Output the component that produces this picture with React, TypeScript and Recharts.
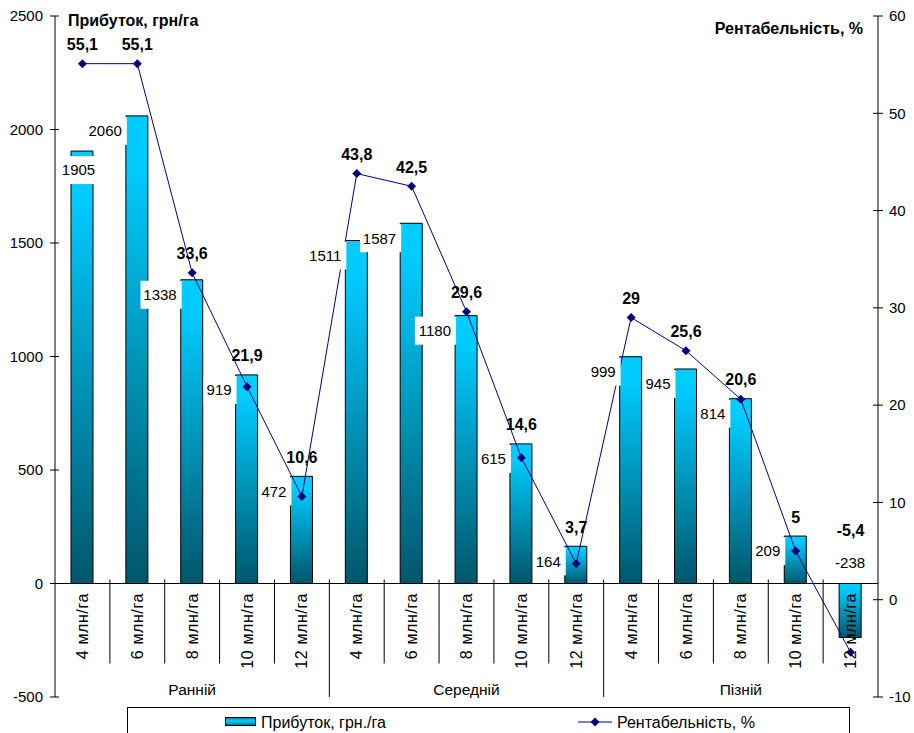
import React from "react";
import { ComposedChart, Bar, Line, XAxis, YAxis, ReferenceLine, LabelList } from "recharts";

const categories = [
  "4 млн/га", "6 млн/га", "8 млн/га", "10 млн/га", "12 млн/га",
  "4 млн/га", "6 млн/га", "8 млн/га", "10 млн/га", "12 млн/га",
  "4 млн/га", "6 млн/га", "8 млн/га", "10 млн/га", "12 млн/га",
];
const groups = ["Ранній", "Середній", "Пізній"];
const profit = [1905, 2060, 1338, 919, 472, 1511, 1587, 1180, 615, 164, 999, 945, 814, 209, -238];
const rent = [55.1, 55.1, 33.6, 21.9, 10.6, 43.8, 42.5, 29.6, 14.6, 3.7, 29, 25.6, 20.6, 5, -5.4];
const leftTicks = [-500, 0, 500, 1000, 1500, 2000, 2500];
const rightTicks = [-10, 0, 10, 20, 30, 40, 50, 60];

const data = categories.map((c, i) => ({ cat: c, profit: profit[i], rent: rent[i] }));

const W = 914;
const H = 733;
const PLOT_LEFT = 55;
const PLOT_RIGHT = 878;
const PLOT_TOP = 16;
const PLOT_BOTTOM = 697;
const PLOT_H = PLOT_BOTTOM - PLOT_TOP;
const L_MIN = -500;
const L_MAX = 2500;
const ZERO_Y = PLOT_TOP + (PLOT_H * L_MAX) / (L_MAX - L_MIN);
const BAND = (PLOT_RIGHT - PLOT_LEFT) / categories.length;
const FONT = "'Liberation Sans', Arial, sans-serif";
const NAVY = "#000080";

const barTopY = (v: number) => ZERO_Y - (v * PLOT_H) / (L_MAX - L_MIN);
const fmt = (v: number) => String(v).replace(".", ",");

function LeftTick(props: any) {
  const { x, y, payload } = props;
  return (
    <g>
      <line x1={x + 7} x2={x + 16} y1={y} y2={y} stroke="#000" />
      <text x={x} y={y} dy="0.35em" textAnchor="end" fontSize={15} fontFamily={FONT} fill="#000">
        {payload.value}
      </text>
    </g>
  );
}

function RightTick(props: any) {
  const { x, y, payload } = props;
  return (
    <g>
      <line x1={x - 16} x2={x - 6} y1={y} y2={y} stroke="#000" />
      <text x={x} y={y} dy="0.35em" textAnchor="start" fontSize={15} fontFamily={FONT} fill="#000">
        {payload.value}
      </text>
    </g>
  );
}

function CategoryTick(props: any) {
  const { x, index, payload } = props;
  const groupEnd = index % 5 === 4;
  const ty = ZERO_Y + 9.5;
  return (
    <g>
      {index < categories.length - 1 && (
        <line
          x1={x + BAND / 2}
          x2={x + BAND / 2}
          y1={ZERO_Y - 4}
          y2={groupEnd ? PLOT_BOTTOM : ZERO_Y + 80}
          stroke="#000"
        />
      )}
      <text
        x={x}
        y={ty}
        dy="0.35em"
        transform={`rotate(-90 ${x} ${ty})`}
        textAnchor="end"
        fontSize={16}
        letterSpacing={0.6}
        fontFamily={FONT}
        fill="#000"
      >
        {payload.value}
      </text>
      {index % 5 === 2 && (
        <text x={x} y={690} dy="0.35em" textAnchor="middle" fontSize={15.5} fontFamily={FONT} fill="#000">
          {groups[Math.floor(index / 5)]}
        </text>
      )}
    </g>
  );
}

function BarLabel(props: any) {
  const vb = props.viewBox || {};
  const x = props.x ?? vb.x;
  const y = props.y ?? vb.y;
  const width = props.width ?? vb.width;
  const height = props.height ?? vb.height;
  const value = Number(props.value);
  const text = String(value);
  const tw = text.replace("-", "").length * 8.3 + (value < 0 ? 5 : 0);
  if (value < 0) {
    const cx = x + width / 2;
    const cy = ZERO_Y - 21;
    return (
      <g>
        <rect x={cx - tw / 2 - 3} y={cy - 13} width={tw + 6} height={26} fill="#fff" />
        <text x={cx} y={cy} dy="0.35em" textAnchor="middle" fontSize={15} fontFamily={FONT} fill="#000">
          {text}
        </text>
      </g>
    );
  }
  const top = Math.min(y, y + height);
  let right = x - 4;
  let left = right - tw;
  let boxRight = x + 1;
  let boxTop = top + 1;
  let textY = top + 15;
  if (left < PLOT_LEFT + 7) {
    left = PLOT_LEFT + 7;
    right = left + tw;
    boxRight = right + 3;
    boxTop = top + 5;
    textY = top + 19;
  }
  return (
    <g>
      <rect x={left - 3} y={boxTop} width={boxRight - (left - 3)} height={28} fill="#fff" />
      <text x={right} y={textY} dy="0.35em" textAnchor="end" fontSize={15} fontFamily={FONT} fill="#000">
        {text}
      </text>
    </g>
  );
}

function LineLabel(props: any) {
  const vb = props.viewBox || {};
  const x = props.x ?? vb.x;
  const y = props.y ?? vb.y;
  const value = Number(props.value);
  let index = props.index;
  if (index === undefined || index === null) index = rent.indexOf(value);
  const p = profit[index];
  const obstacle = p >= 0 ? barTopY(p) : ZERO_Y - 34;
  const cy = Math.min(y, obstacle) - 19;
  return (
    <text x={x} y={cy} dy="0.35em" textAnchor="middle" fontSize={16} fontWeight="bold" fontFamily={FONT} fill="#000">
      {fmt(value)}
    </text>
  );
}

function Diamond(props: any) {
  const { cx, cy } = props;
  if (cx == null || cy == null) return null;
  return <path d={`M${cx},${cy - 4.5}L${cx + 4.5},${cy}L${cx},${cy + 4.5}L${cx - 4.5},${cy}Z`} fill={NAVY} />;
}

export default function App() {
  return (
    <div style={{ position: "absolute", left: 0, top: 0, width: W, height: H, background: "#fff" }}>
      <svg width={0} height={0} style={{ position: "absolute" }}>
        <defs>
          <linearGradient id="barGrad" x1="0" y1="0" x2="0" y2="1">
            <stop offset="0" stopColor="#00CCFF" />
            <stop offset="0.1" stopColor="#00CCFF" />
            <stop offset="1" stopColor="#00566B" />
          </linearGradient>
          <linearGradient id="legGrad" x1="0" y1="0" x2="0" y2="1">
            <stop offset="0" stopColor="#006E88" />
            <stop offset="0.35" stopColor="#00CCFF" />
            <stop offset="0.7" stopColor="#00B0E0" />
            <stop offset="1" stopColor="#00566B" />
          </linearGradient>
        </defs>
      </svg>
      <ComposedChart
        width={W}
        height={H}
        data={data}
        margin={{ top: PLOT_TOP, right: 0, bottom: 0, left: 0 }}
      >
        <XAxis
          dataKey="cat"
          xAxisId={0}
          height={H - PLOT_BOTTOM}
          interval={0}
          axisLine={false}
          tickLine={false}
          tick={<CategoryTick />}
        />
        <YAxis
          yAxisId="left"
          width={PLOT_LEFT}
          domain={[L_MIN, L_MAX]}
          ticks={leftTicks}
          interval={0}
          axisLine={{ stroke: "#000" }}
          tickLine={false}
          tickSize={4}
          tickMargin={8}
          tick={<LeftTick />}
        />
        <YAxis
          yAxisId="right"
          orientation="right"
          width={W - PLOT_RIGHT}
          domain={[-10, 60]}
          ticks={rightTicks}
          interval={0}
          axisLine={{ stroke: "#000" }}
          tickLine={false}
          tickSize={4}
          tickMargin={7}
          tick={<RightTick />}
        />
        <ReferenceLine y={0} yAxisId="left" stroke="#000" />
        <Bar
          dataKey="profit"
          yAxisId="left"
          barSize={22}
          fill="url(#barGrad)"
          stroke="#000"
          strokeWidth={1}
          isAnimationActive={false}
        >
          <LabelList dataKey="profit" content={<BarLabel />} />
        </Bar>
        <Line
          dataKey="rent"
          yAxisId="right"
          type="linear"
          stroke={NAVY}
          strokeWidth={1}
          dot={<Diamond />}
          activeDot={false}
          isAnimationActive={false}
        >
          <LabelList dataKey="rent" content={<LineLabel />} />
        </Line>
      </ComposedChart>
      <svg
        width={W}
        height={H}
        style={{ position: "absolute", left: 0, top: 0, pointerEvents: "none" }}
      >
        <text x={68} y={20} dy="0.35em" fontSize={16} fontWeight="bold" fontFamily={FONT} fill="#000">
          Прибуток, грн/га
        </text>
        <text x={863} y={28} dy="0.35em" textAnchor="end" fontSize={16} fontWeight="bold" fontFamily={FONT} fill="#000">
          Рентабельність, %
        </text>
        <rect x={127.5} y={707.5} width={722} height={40} fill="#fff" stroke="#000" />
        <rect x={225.5} y={717.5} width={30} height={8} fill="url(#legGrad)" stroke="#000" />
        <text x={261} y={722} dy="0.35em" fontSize={16} fontFamily={FONT} fill="#000">
          Прибуток, грн./га
        </text>
        <line x1={578} x2={612} y1={722} y2={722} stroke={NAVY} />
        <path d="M595,717.5L599.5,722L595,726.5L590.5,722Z" fill={NAVY} />
        <text x={617} y={722} dy="0.35em" fontSize={16} fontFamily={FONT} fill="#000">
          Рентабельність, %
        </text>
      </svg>
    </div>
  );
}
